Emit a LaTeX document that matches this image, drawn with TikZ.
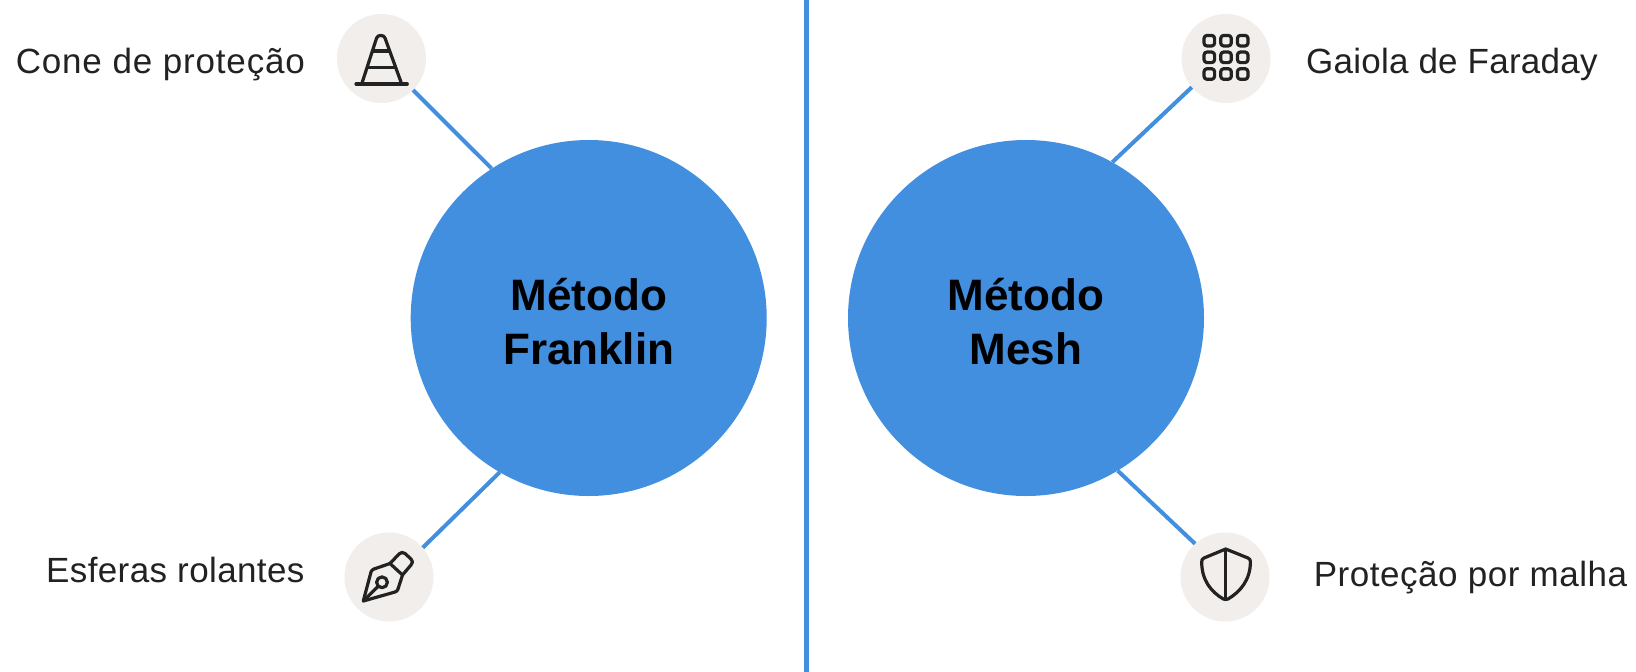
\documentclass[tikz,border=0pt]{standalone}
\usepackage{fontspec}
\setmainfont{Liberation Sans}
\newfontfamily\lab[LetterSpace=1.5]{Liberation Sans}
\definecolor{bl}{HTML}{428EDF}
\definecolor{soft}{HTML}{F1EEEC}
\definecolor{ink}{HTML}{222222}
\tikzset{
 big/.style={circle,fill=bl,minimum size=356pt,inner sep=0pt,align=center,font=\fontsize{44}{54}\selectfont\bfseries,text=black},
 soft/.style={circle,fill=soft,minimum size=89pt,inner sep=0pt},
 link/.style={draw=bl,line width=4pt},
 ico/.style={draw=ink,line width=3.2pt,line cap=round,line join=round},
 lbl/.style={anchor=base west,inner sep=0pt,text=ink,font=\fontsize{35}{38}\selectfont\lab}
}
\begin{document}
\begin{tikzpicture}[x=1pt,y=-1pt]
\useasboundingbox (0,0) rectangle (1636,672);
\fill[white] (0,0) rectangle (1636,672);
\coordinate (dt) at (806.5,0); \coordinate (db) at (806.5,672);
\draw[bl,line width=4.5pt] (dt) -- (db);
\node[big] (fr) at (588.7,318) {\rule{0pt}{40pt}Método\\Franklin};
\node[big] (me) at (1026,318) {\rule{0pt}{40pt}Método\\Mesh};
\node[soft] (cone) at (381.5,58.5) {};
\node[soft] (pen) at (389,577) {};
\node[soft] (grid) at (1226,58.5) {};
\node[soft] (shield) at (1225,577) {};
\draw[link] (cone.-45) -- (fr.123);
\draw[link] (pen.41.5) -- (fr.240);
\draw[link] (grid.220) -- (me.61);
\draw[link] (shield.132) -- (me.-59);
\node[lbl] (t1) at (15.6,73) {\addfontfeature{LetterSpace=2.4}Cone de proteção};
\node[lbl] (t2) at (46,582) {\addfontfeature{LetterSpace=1.1}Esferas rolantes};
\node[lbl] (t3) at (1306,73) {\addfontfeature{LetterSpace=0.7}Gaiola de Faraday};
\node[lbl] (t4) at (1313.6,586) {Proteção por malha};
% cone
\draw[ico] (356,84) -- (407.3,84);
\draw[ico] (361.7,84) -- (376.6,38) .. controls (377.6,34.6) and (384,34.6) .. (385,38) -- (401.7,84);
\draw[ico] (373.3,51) -- (388.5,51);
\draw[ico] (367.7,67.3) -- (395,67.3);
% pen
\draw[ico] (363.3,601) -- (371,572) .. controls (371.6,570.5) and (372.5,569.5) .. (374,569) -- (390,563.5) -- (402.5,575) -- (398,589) .. controls (397.6,590.5) and (396.6,591.5) .. (395,592) -- cycle;
\draw[ico] (390,563.5) -- (399,554) .. controls (401,552) and (403,552) .. (405,553.5) -- (411,559) .. controls (413,561) and (413,563) .. (411,565) -- (402.5,575);
\draw[ico] (382,582.3) circle (5.4);
\draw[ico] (363.3,601) -- (378,586.5);
% grid
\foreach \cx in {1209.3,1226,1242.7}
 \foreach \cy in {40.7,57.3,74}
  \draw[ico,rounded corners=3pt] (\cx-5.3,\cy-5.3) rectangle (\cx+5.3,\cy+5.3);
% shield
\draw[ico] (1225.7,549) -- (1248,558) .. controls (1250,559) and (1250.4,560) .. (1250.4,562) .. controls (1250.4,580) and (1240,592) .. (1228,599) .. controls (1226.5,599.6) and (1225,599.6) .. (1223.4,599) .. controls (1211,592) and (1201.7,580) .. (1201.7,562) .. controls (1201.7,560) and (1202,559) .. (1204,558) -- cycle;
\draw[ico] (1225.7,549) -- (1225.7,599.3);
\end{tikzpicture}
\end{document}
